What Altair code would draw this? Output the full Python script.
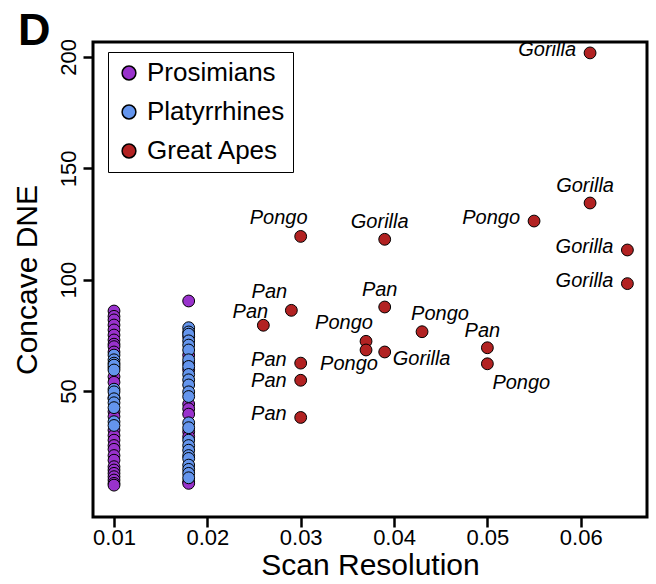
import altair as alt
import pandas as pd

# ---- data ----
pros_x010 = [85.9, 83.5, 81.9, 79.6, 77.4, 75.1, 72.9, 71.0, 69.9, 67.5, 60.5, 56.4, 53.9, 47.0,
             40.7, 38.5, 32.4, 30.0, 27.9, 25.5, 23.8, 21.0, 18.9, 16.0, 14.5, 13.0, 11.5, 10.0, 8.5, 7.7]
platy_x010 = [66.1, 64.0, 62.5, 61.6, 59.4, 50.8, 49.6, 46.5, 44.7, 42.5, 36.2, 34.5]
pros_x018 = [90.4, 74.4, 66.1, 62.4, 59.5, 44.1, 42.0, 39.6, 31.7, 29.5, 9.2, 8.5]
platy_x018 = [78.4, 76.5, 75.5, 72.5, 70.6, 68.4, 64.0, 61.0, 57.4, 55.0, 52.7, 49.6, 47.5,
              35.7, 33.5, 27.9, 25.5, 23.4, 21.0, 19.7, 16.7, 14.8, 13.0, 11.0]

ape_genus = ["Gorilla", "Gorilla", "Pongo", "Gorilla", "Gorilla", "Pongo", "Gorilla", "Pan", "Pan",
             "Pan", "Pongo", "Pongo", "Pongo", "Gorilla", "Pan", "Pongo", "Pan", "Pan", "Pan"]
ape_res = [0.061, 0.061, 0.055, 0.065, 0.065, 0.030, 0.039, 0.029, 0.026,
           0.039, 0.043, 0.037, 0.037, 0.039, 0.050, 0.050, 0.030, 0.030, 0.030]
ape_dne = [201.8, 134.4, 126.3, 113.3, 98.2, 119.4, 118.1, 86.2, 79.5,
           87.7, 76.6, 72.3, 68.4, 67.5, 69.4, 62.2, 62.5, 54.8, 38.1]
ape_label_side = ["left", "above", "left", "left", "left", "aboveleft", "above", "aboveleft", "upleft",
                  "above", "aboveright", "aboveleft", "belowleft", "right", "above", "belowright",
                  "left", "leftlow", "left"]

groups = ["Prosimians", "Platyrrhines", "Great Apes"]
colors = ["#9932CC", "#6495ED", "#B22222"]
x_ticks = [0.01, 0.02, 0.03, 0.04, 0.05, 0.06]
y_ticks = [50, 100, 150, 200]
panel_letter = ["D"]

# ---- table ----
rows = []
for v in pros_x010:
    rows.append(("Prosimians", 0.010, v, "", ""))
for v in platy_x010:
    rows.append(("Platyrrhines", 0.010, v, "", ""))
for v in pros_x018:
    rows.append(("Prosimians", 0.018, v, "", ""))
for v in platy_x018:
    rows.append(("Platyrrhines", 0.018, v, "", ""))
for g, x, y, s in zip(ape_genus, ape_res, ape_dne, ape_label_side):
    rows.append(("Great Apes", x, y, g, s))
df = pd.DataFrame(rows, columns=["group", "res", "dne", "genus", "side"])

FONT = "Liberation Sans"
xscale = alt.Scale(domain=[0.00775, 0.0671], nice=False, zero=False)
yscale = alt.Scale(domain=[-6.6, 206.7], nice=False, zero=False)

base = alt.Chart(df)

points = base.mark_point(filled=True, shape="circle", size=140, stroke="black",
                         strokeWidth=1, opacity=1).encode(
    x=alt.X("res:Q", scale=xscale, title="Scan Resolution",
            axis=alt.Axis(values=x_ticks, format=".2f")),
    y=alt.Y("dne:Q", scale=yscale, title="Concave DNE",
            axis=alt.Axis(values=y_ticks, labelAngle=270, labelAlign="center",
                          labelBaseline="bottom")),
    fill=alt.Fill("group:N", scale=alt.Scale(domain=groups, range=colors),
                  legend=alt.Legend(title=None, orient="none", legendX=15, legendY=10,
                                    strokeColor="black", padding=8,
                                    labelFontSize=26, labelFont=FONT,
                                    symbolSize=190, symbolStrokeColor="black",
                                    symbolStrokeWidth=1.5, rowPadding=13,
                                    labelOffset=5, symbolType="circle")),
)

placements = {
    "left": dict(align="right", dx=-14, dy=-3),
    "leftlow": dict(align="right", dx=-14, dy=1),
    "upleft": dict(align="center", dx=-13, dy=-13),
    "above": dict(align="center", dx=-5, dy=-17),
    "aboveleft": dict(align="center", dx=-22, dy=-18),
    "aboveright": dict(align="center", dx=18, dy=-18),
    "belowleft": dict(align="center", dx=-17, dy=14),
    "belowright": dict(align="left", dx=5, dy=19),
    "right": dict(align="left", dx=8, dy=7),
}

labels = []
for side, p in placements.items():
    labels.append(
        base.transform_filter(alt.datum.side == side).mark_text(
            fontSize=20, font=FONT, fontStyle="italic", baseline="middle", **p
        ).encode(x=alt.X("res:Q", scale=xscale), y=alt.Y("dne:Q", scale=yscale), text="genus:N")
    )

panel = alt.Chart(pd.DataFrame({"panel": panel_letter})).mark_text(
    align="left", baseline="alphabetic", fontSize=45, fontWeight="bold", font=FONT, color="black"
).encode(x=alt.value(-75), y=alt.value(3), text="panel:N")

chart = alt.layer(points, *labels, panel).properties(
    width=554, height=475,
    autosize=alt.AutoSizeParams(type="none"),
    padding={"left": 93, "top": 42, "right": 9, "bottom": 67},
).configure_view(
    stroke="black", strokeWidth=3
).configure_axis(
    domain=False, grid=False, ticks=True, tickColor="black", tickWidth=2.5, tickSize=10,
    labelFont=FONT, labelFontSize=22, labelColor="black", labelPadding=3,
    titleFont=FONT, titleFontSize=30, titleFontWeight="normal", titleColor="black",
).configure_axisX(
    titlePadding=2, labelPadding=0
).configure_axisY(
    titlePadding=15
)

chart.save("out.html", embed_options={"renderer": "svg", "actions": False})
